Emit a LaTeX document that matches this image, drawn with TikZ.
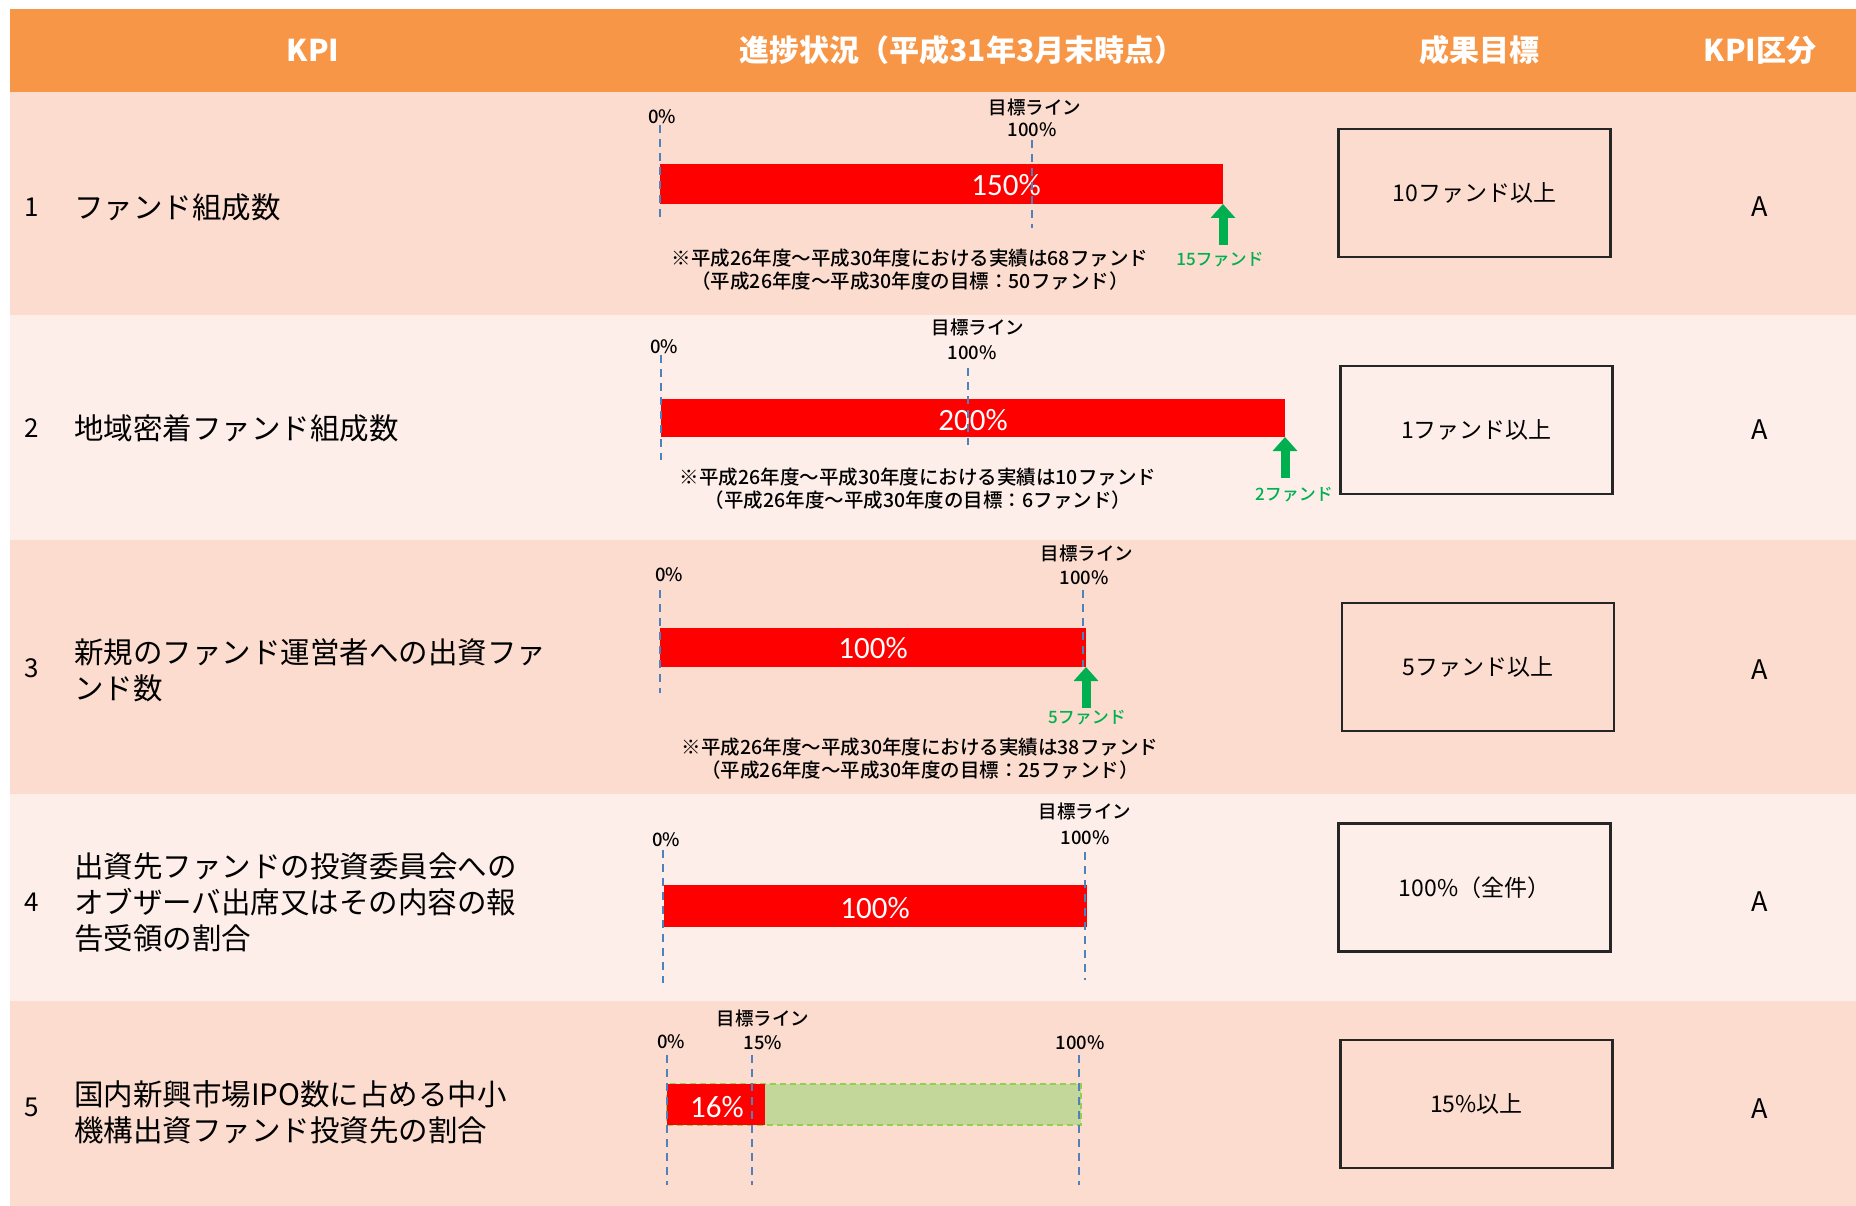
\documentclass[tikz,border=0pt]{standalone}
\usepackage{fontspec}
\setmainfont{Noto Sans CJK JP}
\newfontfamily\calib{Carlito}
\newfontfamily\medfont{Noto Sans CJK JP Medium}
\usepackage{tikz}
\usetikzlibrary{arrows.meta}
\definecolor{headorange}{HTML}{F79646}
\definecolor{rowdark}{HTML}{FCDCCF}
\definecolor{rowlight}{HTML}{FDEEE9}
\definecolor{axisblue}{HTML}{4F81BD}
\definecolor{arrowgreen}{HTML}{00B050}
\definecolor{goalfill}{HTML}{C4D79B}
\definecolor{goaledge}{HTML}{92D050}

\begin{document}
\begin{tikzpicture}[x=1pt, y=-1pt,
  headtext/.style={text=white, inner sep=0, font=\fontsize{30}{34}\selectfont\bfseries},
  numtext/.style={inner sep=0, font=\fontsize{26}{30}\selectfont},
  kpitext/.style={anchor=west, align=left, inner sep=0, font=\fontsize{29.5}{36}\selectfont},
  scaletext/.style={inner sep=0, font=\medfont\fontsize{18.5}{21}\selectfont},
  notetext/.style={align=center, inner sep=0, font=\medfont\fontsize{19.5}{23}\selectfont},
  fundtext/.style={text=arrowgreen, inner sep=0, font=\medfont\fontsize{17}{20}\selectfont},
  bartext/.style={text=white, inner sep=0, font=\calib\fontsize{31}{34}\selectfont},
  redbar/.style={fill=red, inner sep=0, outer sep=0},
  greenbar/.style={fill=goalfill, draw=goaledge, line width=2pt, dash pattern=on 6pt off 4pt, inner sep=0, outer sep=0},
  goalbox/.style={draw=black!85, line width=2.5pt, minimum width=272pt, minimum height=128pt, inner sep=0, font=\fontsize{23}{26}\selectfont},
  grade/.style={inner sep=0, font=\fontsize{27}{30}\selectfont},
  axisline/.style={draw=axisblue, line width=1.8pt, dash pattern=on 8pt off 6pt},
  uparrow/.style={draw=arrowgreen, line width=9pt, -{Triangle[width=24pt,length=14pt]}}]

\useasboundingbox (0,0) rectangle (1856,1206);
\fill[white] (0,0) rectangle (1856,1206);
\fill[headorange] (9.5,9.5) rectangle (1856,92.5);
\fill[rowdark] (9.5,92.5) rectangle (1856,315.5);
\fill[rowlight] (9.5,315.5) rectangle (1856,539.5);
\fill[rowdark] (9.5,539.5) rectangle (1856,794);
\fill[rowlight] (9.5,794) rectangle (1856,1000.5);
\fill[rowdark] (9.5,1000.5) rectangle (1856,1206);

\node[headtext] (HKPIx) at (313,50) {KPI};
\node[headtext] (HProgx) at (962,50) {進捗状況（平成31年3月末時点）};
\node[headtext] (HGoalx) at (1479,50) {成果目標};
\node[headtext] (HRankx) at (1760,50) {KPI区分};

\node[numtext] (R1Nx) at (32,207) {1};
\node[kpitext] (R1Kx) at (74,207) {ファンド組成数};
\node[scaletext] (R1Zx) at (662,117) {0\%};
\node[scaletext] (R1Lx) at (1035,107) {目標ライン};
\node[scaletext] (R1Hx) at (1032,130) {100\%};
\node[redbar, minimum width=563pt, minimum height=40pt] (R1Barx) at (941.5,184) {};
\node[bartext] (R1Px) at (1006,185) {150\%};
\draw[axisline] (660,125) -- (660,223);
\draw[axisline] (1032,140) -- (1032,228);
\coordinate (R1Tx) at (1223,245);
\draw[uparrow] (R1Tx) -- (R1Barx.south east);
\node[fundtext] (R1Fx) at (1220,260) {15ファンド};
\node[notetext] (R1Mx) at (910,270) {※平成26年度～平成30年度における実績は68ファンド\\（平成26年度～平成30年度の目標：50ファンド）};
\node[goalbox] (R1Gx) at (1474.5,193) {10ファンド以上};
\node[grade] (R1Ax) at (1760,207) {A};

\node[numtext] (R2Nx) at (32,428) {2};
\node[kpitext] (R2Kx) at (74,428) {地域密着ファンド組成数};
\node[scaletext] (R2Zx) at (664,347) {0\%};
\node[scaletext] (R2Lx) at (978,327) {目標ライン};
\node[scaletext] (R2Hx) at (972,353) {100\%};
\node[redbar, minimum width=624pt, minimum height=38pt] (R2Barx) at (973,418) {};
\node[bartext] (R2Px) at (973,420) {200\%};
\draw[axisline] (661,355) -- (661,460);
\draw[axisline] (968,368) -- (968,445);
\coordinate (R2Tx) at (1285,478);
\draw[uparrow] (R2Tx) -- (R2Barx.south east);
\node[fundtext] (R2Fx) at (1294,495) {2ファンド};
\node[notetext] (R2Mx) at (918,489) {※平成26年度～平成30年度における実績は10ファンド\\（平成26年度～平成30年度の目標：6ファンド）};
\node[goalbox] (R2Gx) at (1476.5,430) {1ファンド以上};
\node[grade] (R2Ax) at (1760,430) {A};

\node[numtext] (R3Nx) at (32,668) {3};
\node[kpitext] (R3Kx) at (74,670) {新規のファンド運営者への出資ファ\\ンド数};
\node[scaletext] (R3Zx) at (669,575) {0\%};
\node[scaletext] (R3Lx) at (1087,553) {目標ライン};
\node[scaletext] (R3Hx) at (1084,578) {100\%};
\node[redbar, minimum width=426pt, minimum height=39pt] (R3Barx) at (873,647.5) {};
\node[bartext] (R3Px) at (873,648) {100\%};
\draw[axisline] (660,590) -- (660,693);
\draw[axisline] (1083,590) -- (1083,667);
\coordinate (R3Tx) at (1086,708);
\draw[uparrow] (R3Tx) -- (R3Barx.south east);
\node[fundtext] (R3Fx) at (1087,718) {5ファンド};
\node[notetext] (R3Mx) at (920,759) {※平成26年度～平成30年度における実績は38ファンド\\（平成26年度～平成30年度の目標：25ファンド）};
\node[goalbox] (R3Gx) at (1478,667) {5ファンド以上};
\node[grade] (R3Ax) at (1760,670) {A};

\node[numtext] (R4Nx) at (32,902) {4};
\node[kpitext] (R4Kx) at (74,902) {出資先ファンドの投資委員会への\\オブザーバ出席又はその内容の報\\告受領の割合};
\node[scaletext] (R4Zx) at (666,840) {0\%};
\node[scaletext] (R4Lx) at (1085,811) {目標ライン};
\node[scaletext] (R4Hx) at (1085,838) {100\%};
\node[redbar, minimum width=423pt, minimum height=42pt] (R4Barx) at (875.5,906) {};
\node[bartext] (R4Px) at (875,908) {100\%};
\draw[axisline] (663,850) -- (663,983);
\draw[axisline] (1085,852) -- (1085,980);
\node[goalbox] (R4Gx) at (1474.5,887.5) {100\%（全件）};
\node[grade] (R4Ax) at (1760,902) {A};

\node[numtext] (R5Nx) at (32,1107) {5};
\node[kpitext] (R5Kx) at (74,1112) {国内新興市場IPO数に占める中小\\機構出資ファンド投資先の割合};
\node[scaletext] (R5Lx) at (763,1018) {目標ライン};
\node[scaletext] (R5Zx) at (671,1042) {0\%};
\node[scaletext] (R5Qx) at (763,1043) {15\%};
\node[scaletext] (R5Hx) at (1080,1043) {100\%};
\node[greenbar, minimum width=414pt, minimum height=41pt] (R5Goalx) at (874,1104.5) {};
\node[redbar, minimum width=98pt, minimum height=41pt] (R5Barx) at (716,1104.5) {};
\node[bartext] (R5Px) at (717,1107) {16\%};
\draw[axisline] (667,1055) -- (667,1185);
\draw[axisline] (752,1055) -- (752,1185);
\draw[axisline] (1079,1055) -- (1079,1185);
\node[goalbox] (R5Gx) at (1476.5,1104) {15\%以上};
\node[grade] (R5Ax) at (1760,1109) {A};

\end{tikzpicture}
\end{document}
